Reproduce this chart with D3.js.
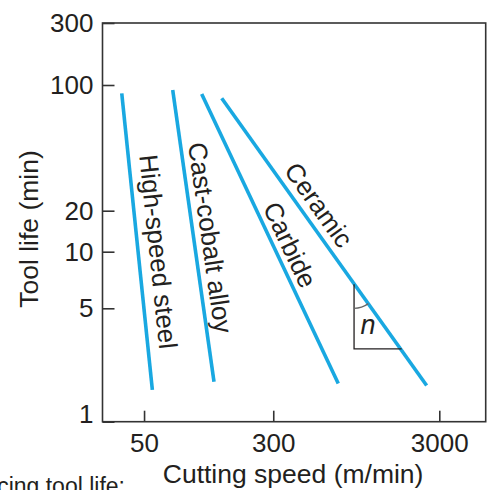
<!DOCTYPE html>
<html>
<head>
<meta charset="utf-8">
<script src="https://cdn.jsdelivr.net/npm/d3@7"></script>
<style>
  html, body { margin: 0; padding: 0; background: #fff; }
  svg { display: block; }
  text { font-family: "Liberation Sans", Arial, Helvetica, sans-serif; fill: #231f20; }
</style>
</head>
<body>
<svg id="chart" width="491" height="490"></svg>
<script>
// ---- data ----
const materials   = ["High-speed steel", "Cast-cobalt alloy", "Carbide", "Ceramic"];
const speedStart  = [36.7, 74.4, 111.2, 146.8];   // m/min
const lifeStart   = [89.9, 93.8, 89.1, 84.4];     // min
const speedEnd    = [56.1, 131.9, 739, 2517];     // m/min
const lifeEnd     = [1.57, 1.76, 1.72, 1.67];     // min
const xTickValues = [50, 300, 3000];
const yTickValues = [1, 5, 10, 20, 100, 300];
const xDomain     = [28.1, 5710];
// slope triangle on the ceramic line (speed, life)
const triSpeed = [920, 1780];
const triLife  = [6.71, 2.81];

// ---- layout ----
const plot = { left: 102.5, right: 485.7, top: 23, bottom: 421.7 };
// the printed life axis is not evenly spaced per decade; piecewise log scale follows it
const yRange = [421.7, 308.3, 251.7, 210.7, 85, 23];
const labelT      = [0.541, 0.514, 0.544, 0.406];
const labelOffset = [20, 16.5, 15.5, 17];

const svg = d3.select("#chart");
const x = d3.scaleLog().domain(xDomain).range([plot.left, plot.right]);
const y = d3.scaleLog().domain(yTickValues).range(yRange);

const ink = "#231f20";
const blue = "#19a8e1";
const tickFont = 26;
const titleFont = 26.5;

// frame
svg.append("rect")
  .attr("x", plot.left).attr("y", plot.top)
  .attr("width", plot.right - plot.left).attr("height", plot.bottom - plot.top)
  .attr("fill", "none").attr("stroke", "#333").attr("stroke-width", 1.6);

// x axis
const gx = svg.append("g").attr("transform", `translate(0,${plot.bottom})`)
  .call(d3.axisBottom(x).tickValues(xTickValues).tickFormat(d3.format("d"))
    .tickSizeInner(-11).tickSizeOuter(0).tickPadding(12));
gx.select(".domain").remove();
gx.selectAll(".tick line").attr("stroke", "#333").attr("stroke-width", 1.6);
gx.selectAll(".tick text").attr("font-size", tickFont).attr("fill", ink)
  .style("font-family", "'Liberation Sans', Arial, sans-serif");

// y axis
const gy = svg.append("g").attr("transform", `translate(${plot.left},0)`)
  .call(d3.axisLeft(y).tickValues(yTickValues).tickFormat(d3.format("d"))
    .tickSizeInner(-12).tickSizeOuter(0).tickPadding(9));
gy.select(".domain").remove();
gy.selectAll(".tick line").attr("stroke", "#333").attr("stroke-width", 1.6);
gy.selectAll(".tick text").attr("font-size", tickFont).attr("fill", ink)
  .style("font-family", "'Liberation Sans', Arial, sans-serif")
  .attr("dy", d => d === 1 ? "0.04em" : "0.32em");

// axis titles
svg.append("text")
  .attr("x", (plot.left + plot.right) / 2 - 1).attr("y", 483)
  .attr("text-anchor", "middle").attr("font-size", titleFont)
  .text("Cutting speed (m/min)");
svg.append("text")
  .attr("transform", `translate(38,${229}) rotate(-90)`)
  .attr("text-anchor", "middle").attr("font-size", titleFont)
  .text("Tool life (min)");

// lines
const rows = materials.map((m, i) => ({
  name: m,
  pts: [[speedStart[i], lifeStart[i]], [speedEnd[i], lifeEnd[i]]],
  t: labelT[i], off: labelOffset[i]
}));
const line = d3.line().x(d => x(d[0])).y(d => y(d[1]));
svg.append("g").selectAll("path").data(rows).join("path")
  .attr("d", d => line(d.pts))
  .attr("fill", "none").attr("stroke", blue).attr("stroke-width", 3.6)
  .attr("stroke-linecap", "butt");

// line labels, parallel to each line
svg.append("g").selectAll("text").data(rows).join("text")
  .attr("transform", d => {
    const x0 = x(d.pts[0][0]), y0 = y(d.pts[0][1]);
    const x1 = x(d.pts[1][0]), y1 = y(d.pts[1][1]);
    const a = Math.atan2(y1 - y0, x1 - x0);
    const px = x0 + d.t * (x1 - x0) + d.off * Math.sin(a);
    const py = y0 + d.t * (y1 - y0) - d.off * Math.cos(a);
    return `translate(${px},${py}) rotate(${a * 180 / Math.PI})`;
  })
  .attr("text-anchor", "middle").attr("dominant-baseline", "central")
  .attr("font-size", 26)
  .text(d => d.name);

// slope triangle
const cx = x(triSpeed[0]), topY = y(triLife[0]), botY = y(triLife[1]), rx = x(triSpeed[1]);
svg.append("path")
  .attr("d", `M${cx},${topY}L${cx},${botY}L${rx},${botY}`)
  .attr("fill", "none").attr("stroke", ink).attr("stroke-width", 1.3);
const angLine = Math.atan2(rx - cx, -(botY - topY));
svg.append("path")
  .attr("transform", `translate(${cx},${topY})`)
  .attr("d", d3.arc()({ innerRadius: 24, outerRadius: 24, startAngle: angLine, endAngle: Math.PI }))
  .attr("fill", "none").attr("stroke", "#666").attr("stroke-width", 1.3);
svg.append("text")
  .attr("x", cx + 14).attr("y", (topY + botY) / 2 + 8)
  .attr("text-anchor", "middle").attr("dominant-baseline", "central")
  .attr("font-size", 27).attr("font-style", "italic")
  .text("n");

// caption text cut by the bottom edge, as in the reference
svg.append("text")
  .attr("x", 125).attr("y", 493.5)
  .attr("text-anchor", "end").attr("font-size", 23)
  .text("influencing tool life:");
</script>
</body>
</html>
